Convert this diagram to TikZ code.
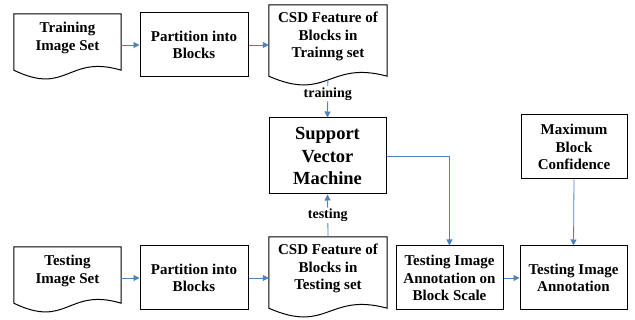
\documentclass[tikz,border=0pt]{standalone}
\usepackage{fontspec}
\setmainfont{Liberation Serif}
\usetikzlibrary{positioning, arrows.meta, calc}

% outline of a document shape round a named node (wavy bottom)
\newcommand{\docoutline}[1]{%
  \draw[line width=1pt] (#1.north west) -- (#1.north east)
    -- ($(#1.south east)+(0,-8pt)$)
    .. controls ($(#1.south)+(0,8pt)$) and ($(#1.south)+(0,-34pt)$)
    .. ($(#1.south west)+(0,-8pt)$) -- cycle;}

\begin{document}
\begin{tikzpicture}[
    x=1pt, y=-1pt,
    box/.style={rectangle, draw=black, line width=1pt, align=center,
      font=\rmfamily\bfseries\fontsize{15}{17.5}\selectfont, inner sep=0pt},
    docbox/.style={rectangle, align=center,
      font=\rmfamily\bfseries\fontsize{15}{17.5}\selectfont, inner sep=0pt},
    bigbox/.style={box, font=\rmfamily\bfseries\fontsize{18.5}{22.5}\selectfont},
    flow/.style={-{Triangle[length=6pt, width=6pt]}, line width=0.8pt,
      draw={rgb,255:red,79;green,129;blue,189}},
    label/.style={font=\rmfamily\bfseries\fontsize{14}{16}\selectfont, fill=white,
      inner sep=1pt}
]
\useasboundingbox (0,0) rectangle (635,320);

% === Training row ===
\node[docbox, minimum width=107pt, minimum height=48pt] (trainset) at (67.5,38) {Training\\Image Set};
\docoutline{trainset}
\node[box, minimum width=108pt, minimum height=64pt] (trainpart) at (194,45) {Partition into\\Blocks};
\node[docbox, minimum width=118pt, minimum height=63pt] (csdtrain) at (328,36.5) {CSD Feature of\\Blocks in\\Trainng set};
\docoutline{csdtrain}

% === Classifier ===
\node[bigbox, minimum width=117pt, minimum height=76pt] (svm) at (327.5,156) {Support\\Vector\\Machine};
\node[box, minimum width=106pt, minimum height=64pt] (maxconf) at (574,147) {Maximum\\Block\\Confidence};

% === Testing row ===
\node[docbox, minimum width=107pt, minimum height=48pt] (testset) at (67.5,271) {Testing\\Image Set};
\docoutline{testset}
\node[box, minimum width=108pt, minimum height=64pt] (testpart) at (194,278) {Partition into\\Blocks};
\node[docbox, minimum width=118pt, minimum height=63pt] (csdtest) at (328,268.5) {CSD Feature of\\Blocks in\\Testing set};
\docoutline{csdtest}
\node[box, minimum width=107pt, minimum height=64pt] (annblock) at (449.5,278) {Testing Image\\Annotation on\\Block Scale};
\node[box, minimum width=107pt, minimum height=64pt] (annot) at (573.5,278) {Testing Image\\Annotation};

% Connectors
\draw[flow] (trainset.east |- trainpart.west) -- (trainpart.west);
\draw[flow] (trainpart.east) -- (trainpart.east -| csdtrain.west);
\draw[flow, shorten <=12pt] (csdtrain.south) -- (svm.north)
    node[label, pos=0.52] {training};
\draw[flow] (csdtest.north) -- (svm.south)
    node[label, midway] {testing};
\draw[flow] (testset.east |- testpart.west) -- (testpart.west);
\draw[flow] (testpart.east) -- (testpart.east -| csdtest.west);
\draw[flow] (svm.east) -| (annblock.north);
\draw[flow] (annblock.east) -- (annot.west);
\draw[flow] (maxconf.south) -- (annot.north);

\end{tikzpicture}
\end{document}
